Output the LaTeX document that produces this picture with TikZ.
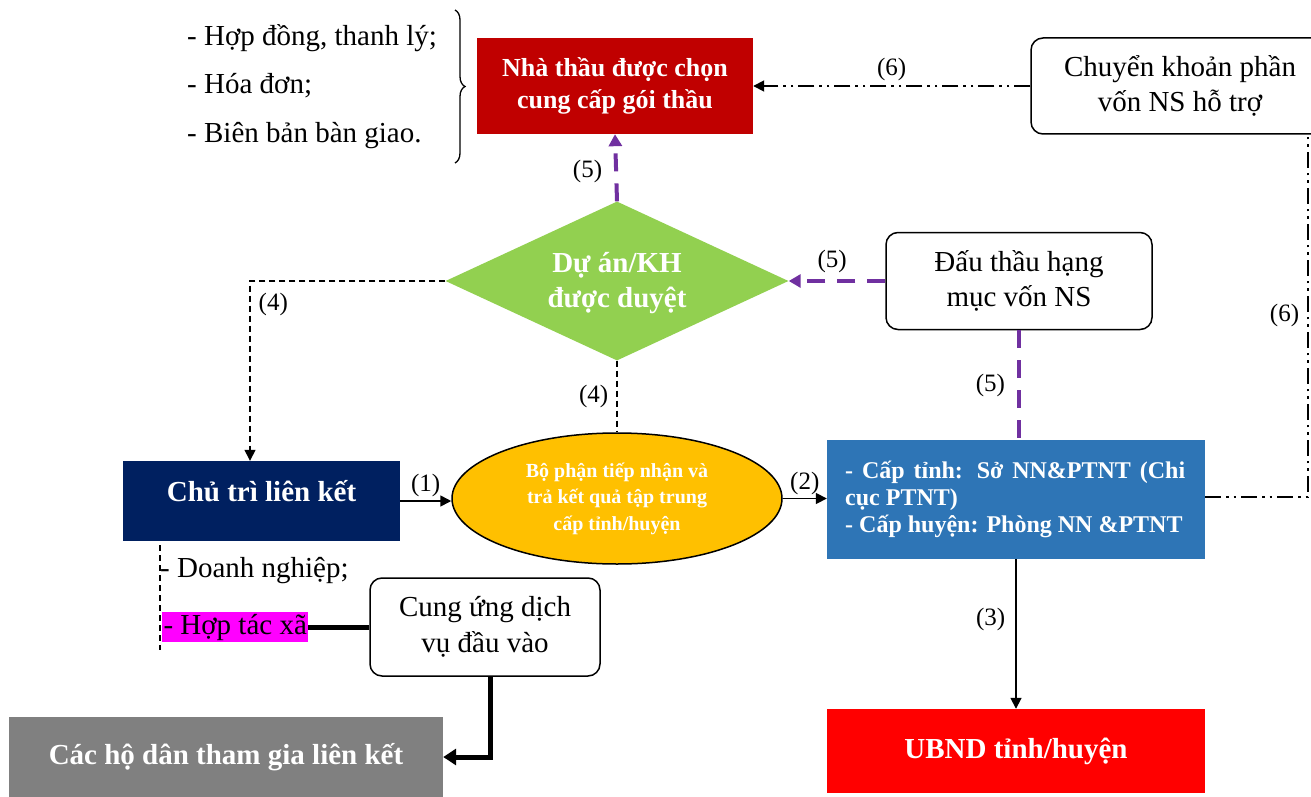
\documentclass[tikz,border=0pt]{standalone}
\usepackage{fontspec}
\setmainfont{Liberation Serif}
\usetikzlibrary{arrows.meta,shapes.geometric,decorations.pathreplacing}
\definecolor{cnavy}{HTML}{002060}
\definecolor{cyel}{HTML}{FFC000}
\definecolor{cblue}{HTML}{2E75B6}
\definecolor{cdred}{HTML}{C00000}
\definecolor{cred}{HTML}{FF0000}
\definecolor{cgrey}{HTML}{808080}
\definecolor{cgreen}{HTML}{92D050}
\definecolor{cpurp}{HTML}{7030A0}
\definecolor{cmag}{HTML}{FF00FF}
\tikzset{
  fbox/.style={draw=none,align=center,text=white,font=\fontsize{26}{32}\selectfont\bfseries,inner sep=0pt},
  rbox/.style={draw=black,line width=1.5pt,rounded corners=12pt,fill=white,align=center,font=\fontsize{29}{35}\selectfont,inner sep=0pt},
  lbl/.style={font=\fontsize{25}{28}\selectfont,inner sep=2pt},
  txt/.style={font=\fontsize{29}{32}\selectfont,inner sep=0pt,anchor=west},
  tip/.style={-{Triangle[length=11pt,width=11pt]}},
  ddot/.style={line width=1.8pt,dash pattern=on 16pt off 5pt on 2.5pt off 5pt on 2.5pt off 5pt},
  purp/.style={draw=cpurp,line width=4pt,dash pattern=on 18pt off 12pt},
  dsh/.style={line width=1.4pt,dash pattern=on 6pt off 4pt},
  solid1/.style={line width=1.6pt},
  heavy/.style={line width=5pt}
}
\begin{document}
\begin{tikzpicture}[x=1pt,y=-1pt]
\useasboundingbox (0,0) rectangle (1311,797);
% nodes
\node[fbox,fill=cdred,minimum width=276pt,minimum height=96pt] (nha) at (615,86) {Nhà thầu được chọn\\cung cấp gói thầu};
\node[rbox,minimum width=298pt,minimum height=96pt] (chuyen) at (1180,86) {Chuyển khoản phần\\vốn NS hỗ trợ};
\node[diamond,fill=cgreen,minimum width=343pt,minimum height=159pt,inner sep=0pt] (diam) at (617,281) {};
\node[align=center,inner sep=0pt,text=white,font=\fontsize{29}{35}\selectfont\bfseries] (diamtxt) at (617,283) {Dự án/KH\\được duyệt};
\node[rbox,minimum width=266pt,minimum height=97pt] (dau) at (1019,281) {Đấu thầu hạng\\mục vốn NS};
\node[fbox,fill=cnavy,minimum width=277pt,minimum height=80pt,font=\fontsize{29}{32}\selectfont\bfseries,text depth=20pt] (chu) at (261.5,501) {Chủ trì liên kết};
\node[ellipse,draw=black,line width=1.5pt,fill=cyel,minimum width=330pt,minimum height=131pt,inner sep=0pt,align=center,text=white,font=\fontsize{20}{26.5}\selectfont\bfseries] (ell) at (617,498.5) {Bộ phận tiếp nhận và\\trả kết quả tập trung\\cấp tỉnh/huyện};
\node[fill=cblue,minimum width=378pt,minimum height=119pt,inner sep=0pt] (blue) at (1016,499.5) {};
\node[anchor=west,align=left,inner sep=0pt,text=white,font=\fontsize{24}{27}\selectfont\bfseries] (bluetxt) at (845,499.5) {\makebox[340pt][s]{- Cấp tỉnh: Sở NN\&PTNT (Chi}\\cục PTNT)\\- Cấp huyện: Phòng NN \&PTNT};
\node[fbox,fill=cred,minimum width=378pt,minimum height=84pt,font=\fontsize{29}{32}\selectfont\bfseries] (ubnd) at (1016,751) {UBND tỉnh/huyện};
\node[rbox,minimum width=230pt,minimum height=98pt,font=\fontsize{29}{36}\selectfont] (cung) at (485,627) {Cung ứng dịch\\vụ đầu vào};
\node[fbox,fill=cgrey,minimum width=434pt,minimum height=80pt,font=\fontsize{29}{32}\selectfont\bfseries] (hodan) at (226,757) {Các hộ dân tham gia liên kết};
% text lists
\node[txt] (l1) at (187,38) {- Hợp đồng, thanh lý;};
\node[txt] (l2) at (187,86) {- Hóa đơn;};
\node[txt] (l3) at (187,136) {- Biên bản bàn giao.};
\node[txt] (dn) at (160,571) {- Doanh nghiệp;};
\node[txt,fill=cmag,minimum height=30pt,minimum width=146pt,anchor=west,text depth=6pt] (htx) at (162,627) {- Hợp tác xã\hfill};
% brace
\coordinate (b1) at (455,10);
\coordinate (b2) at (455,163);
\draw[line width=1.3pt,decorate,decoration={brace,amplitude=10pt}] (b1) -- (b2);
% connectors
\draw[ddot,tip] (chuyen.west |- nha.east) -- node[lbl,above=2pt]{(6)} (nha.east);
\coordinate (c6) at (1308,497);
\draw[ddot] (blue.east |- c6) -- (c6) -- node[lbl,left=6pt,pos=0.5]{(6)} (c6 |- chuyen.south);
\draw[purp,-{Triangle[length=12pt,width=13pt]}] (diam.north) -- node[lbl,left=10pt,pos=0.45]{(5)} (nha.south);
\draw[purp,-{Triangle[length=12pt,width=13pt]}] (dau.west) -- node[lbl,above=4pt,pos=0.55]{(5)} (diam.east);
\draw[purp] (dau.south) -- node[lbl,left=10pt]{(5)} (dau.south |- blue.north);
\coordinate (c4) at (250,281);
\draw[dsh,tip] (diam.west) -- (c4) -- node[lbl,right=6pt,pos=0.13]{(4)} (c4 |- chu.north);
\draw[dsh] (diam.south) -- node[lbl,left=6pt]{(4)} (ell.north);
\draw[solid1,tip] (chu.east) -- node[lbl,above=1pt]{(1)} (chu.east -| ell.west);
\draw[solid1,tip] (ell.east) -- node[lbl,above=1pt]{(2)} (ell.east -| blue.west);
\draw[solid1,tip] (blue.south) -- node[lbl,left=8pt,pos=0.4]{(3)} (ubnd.north);
\coordinate (v1) at (160,545);
\coordinate (v2) at (160,650);
\draw[dsh] (v1) -- (v2);
\draw[heavy] (htx.east) -- (cung.west);
\coordinate (c7) at (490,757);
\draw[heavy,-{Triangle[length=13pt,width=16pt]}] (cung.south -| c7) -- (c7) -- (hodan.east);
\end{tikzpicture}
\end{document}
